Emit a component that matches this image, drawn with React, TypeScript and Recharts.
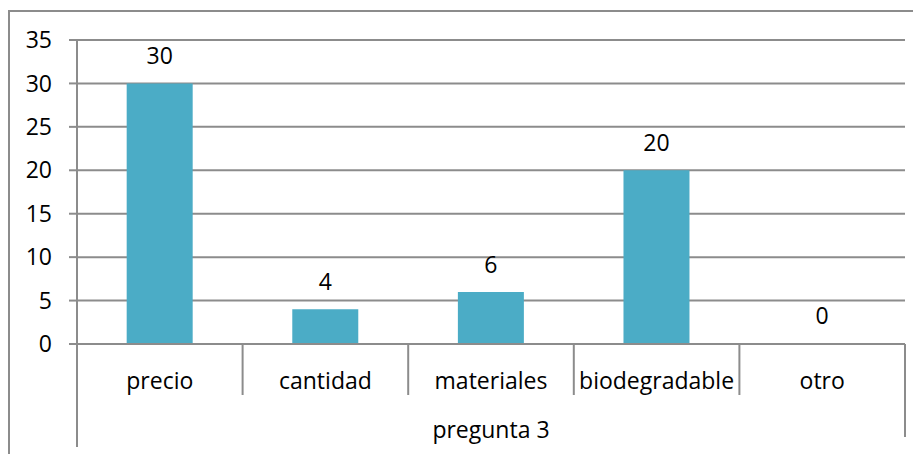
import React from 'react';
import { BarChart, Bar, XAxis, YAxis, CartesianGrid, LabelList, Cell } from 'recharts';

const categories = ['precio', 'cantidad', 'materiales', 'biodegradable', 'otro'];
const values = [30, 4, 6, 20, 0];
const yTicks = [0, 5, 10, 15, 20, 25, 30, 35];
const groupLabel = 'pregunta 3';

const data = categories.map((name, i) => ({ name, value: values[i] }));

const CHART_W = 913;
const CHART_H = 446;
const MARGIN = { top: 32, right: 16, left: 0, bottom: 0 };
const Y_AXIS_W = 69;
const PLOT_W = CHART_W - MARGIN.left - MARGIN.right - Y_AXIS_W;
const BAND = PLOT_W / categories.length;

const GRAY = '#8c8c8c';
const FONT = '"Open Sans", sans-serif';
const FS = 23;

const CategoryTick = (props: any) => {
    const { x, y, payload, index } = props;
    const last = index === categories.length - 1;
    return (
        <g>
            <text x={x} y={y + 36} textAnchor="middle" dominantBaseline="central" fill="#000" fontSize={FS} fontFamily={FONT}>
                {payload.value}
            </text>
            {index === 0 && <line x1={x - BAND / 2} y1={y} x2={x - BAND / 2} y2={y + 103} stroke={GRAY} strokeWidth={2} />}
            <line x1={x + BAND / 2} y1={y} x2={x + BAND / 2} y2={y + (last ? 93 : 51)} stroke={GRAY} strokeWidth={2} />
        </g>
    );
};

export default function App() {
    return (
        <div style={{ position: 'relative', width: CHART_W, height: CHART_H }}>
            <div
                style={{
                    position: 'absolute',
                    top: 2,
                    left: 0,
                    right: 0,
                    bottom: 0,
                    borderTop: `2px solid ${GRAY}`,
                    borderLeft: `2px solid ${GRAY}`,
                    pointerEvents: 'none',
                }}
            />
            <BarChart width={CHART_W} height={CHART_H} data={data} margin={MARGIN} barCategoryGap="30%">
                <CartesianGrid vertical={false} stroke={GRAY} strokeWidth={2} />
                <XAxis
                    dataKey="name"
                    height={110}
                    axisLine={{ stroke: GRAY, strokeWidth: 2 }}
                    tickLine={false}
                    tickSize={0}
                    tickMargin={0}
                    interval={0}
                    tick={<CategoryTick />}
                    label={{ value: groupLabel, position: 'insideBottom', offset: 16, fill: '#000', fontSize: FS, fontFamily: FONT }}
                />
                <YAxis
                    width={Y_AXIS_W}
                    domain={[0, 35]}
                    ticks={yTicks}
                    interval={0}
                    axisLine={{ stroke: GRAY, strokeWidth: 2 }}
                    tickLine={{ stroke: GRAY, strokeWidth: 2 }}
                    tickSize={8}
                    tickMargin={17}
                    tick={{ fill: '#000', fontSize: FS, fontFamily: FONT }}
                />
                <Bar dataKey="value" fill="#4BACC6" minPointSize={1} isAnimationActive={false}>
                    {data.map((d, i) => (
                        <Cell key={`cell-${i}`} fill="#4BACC6" fillOpacity={d.value === 0 ? 0 : 1} />
                    ))}
                    <LabelList dataKey="value" position="top" offset={19} fill="#000" fontSize={FS} fontFamily={FONT} />
                </Bar>
            </BarChart>
        </div>
    );
}
